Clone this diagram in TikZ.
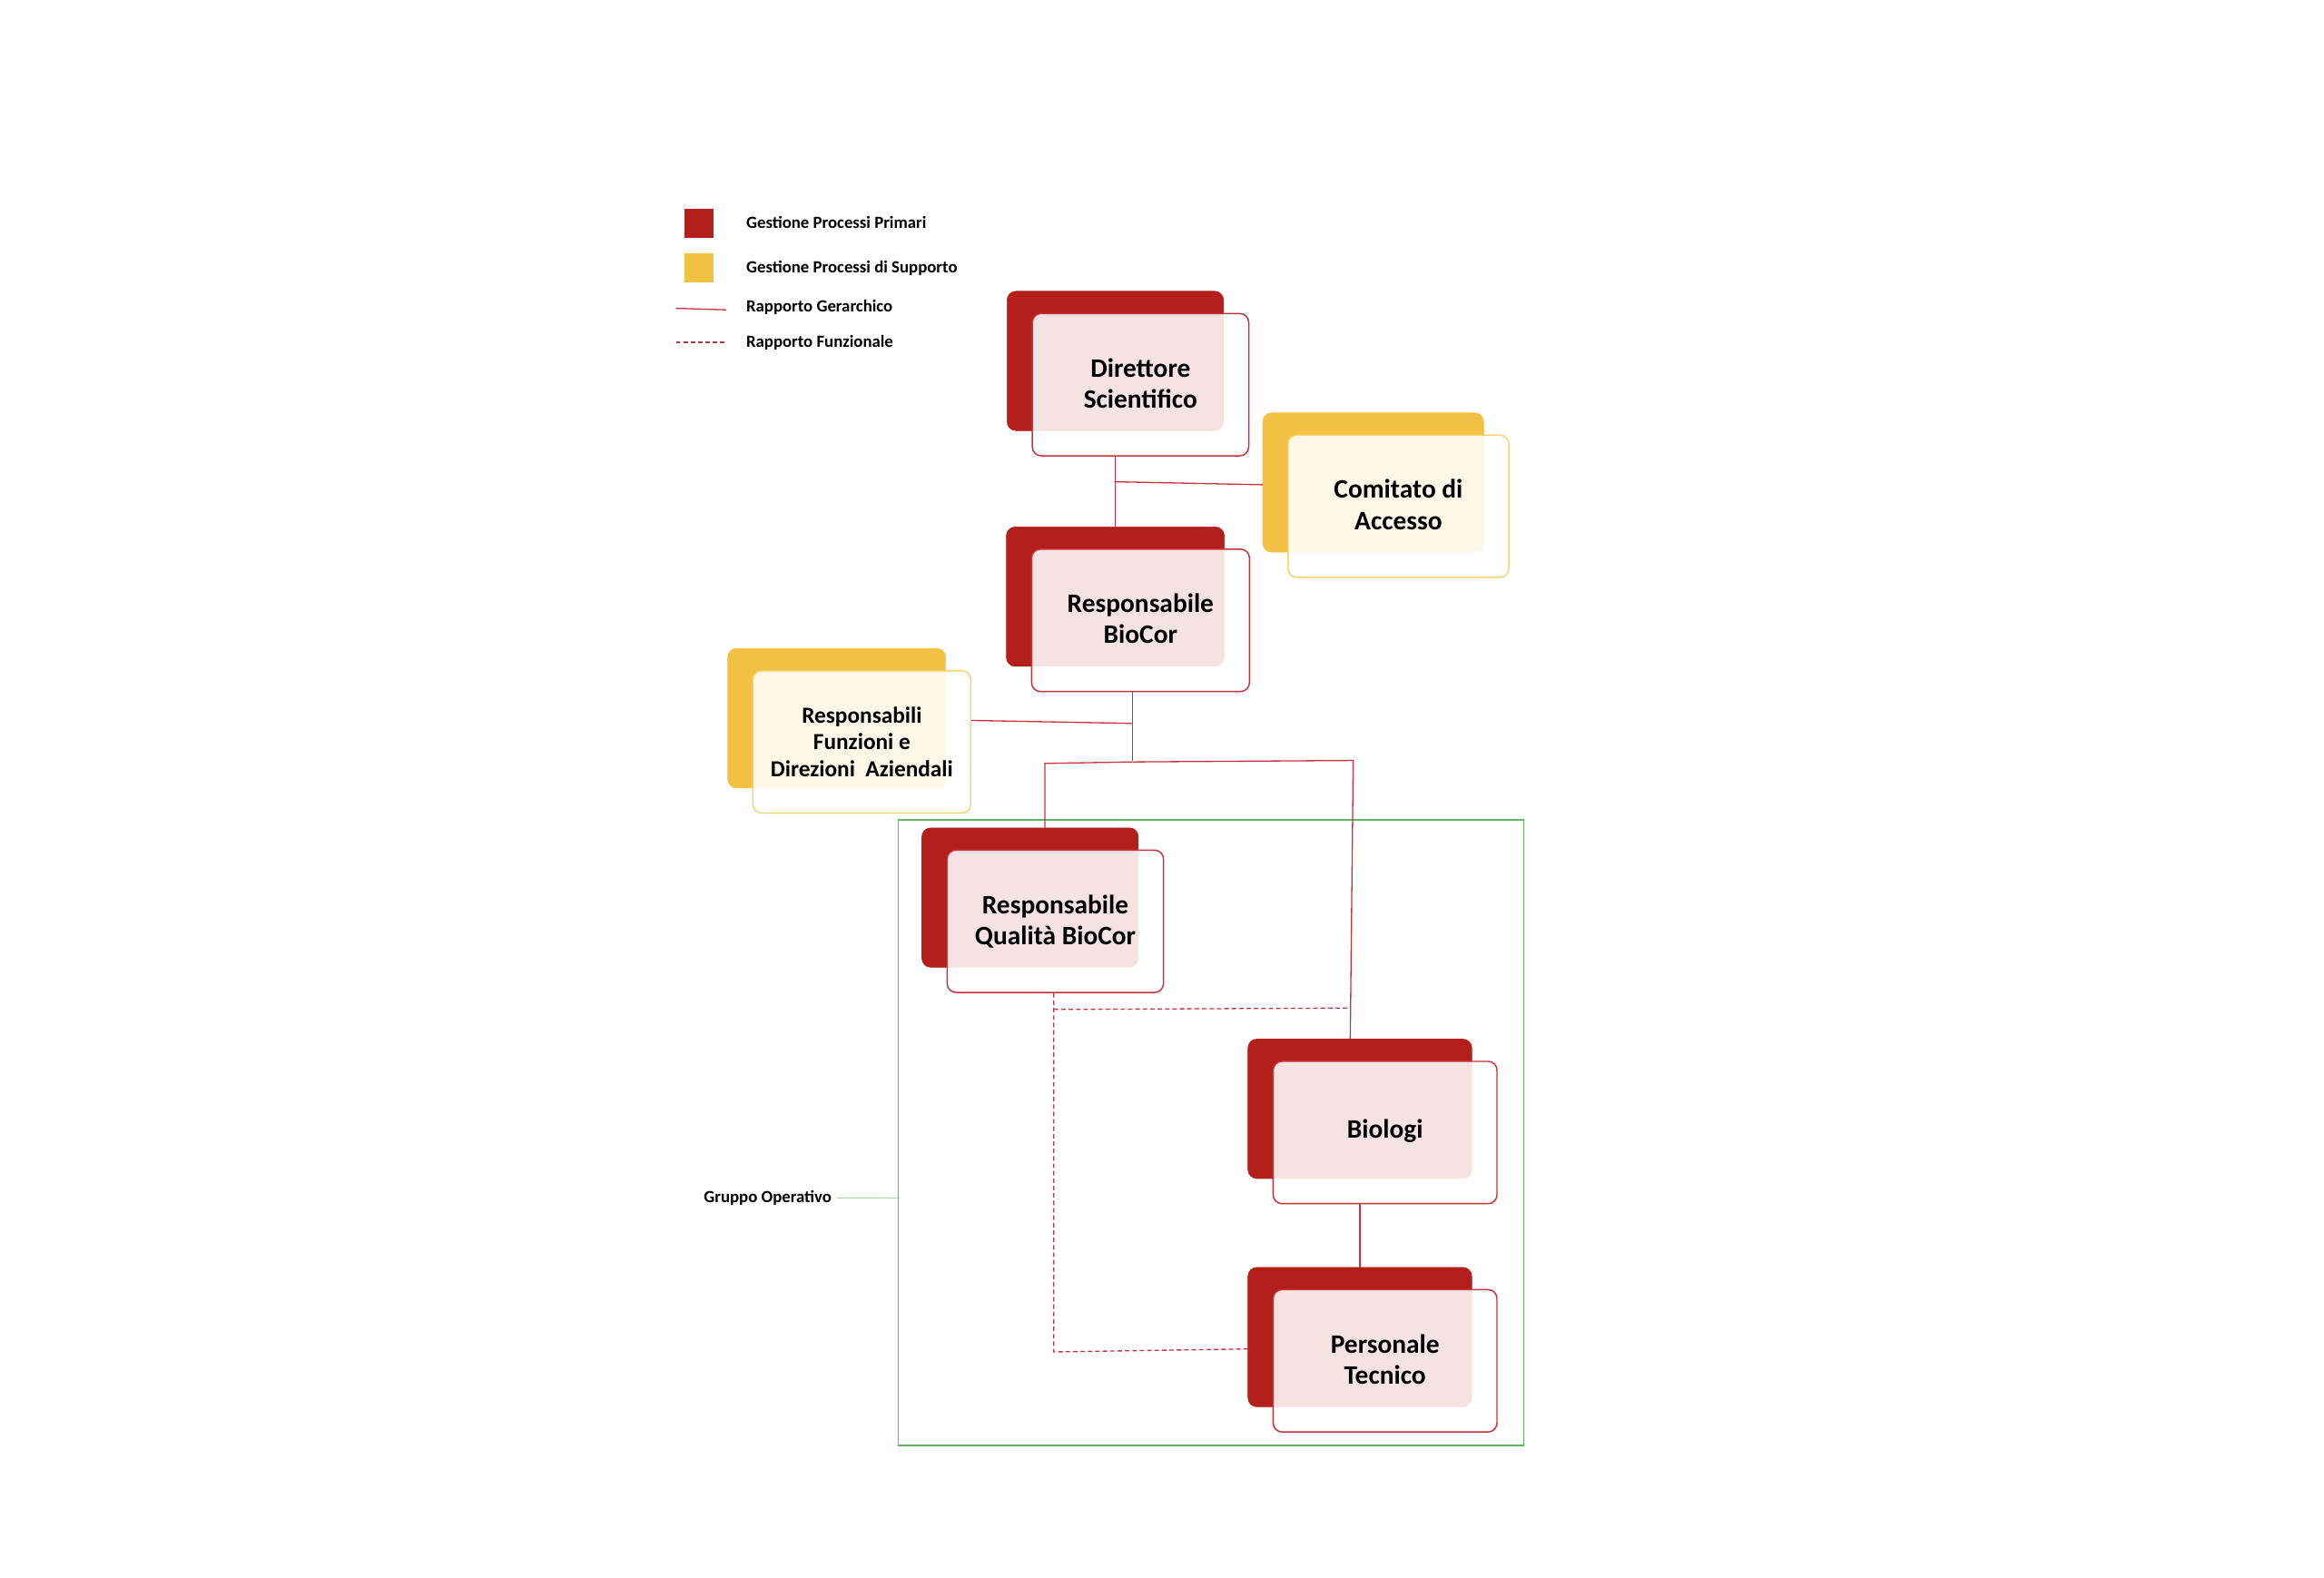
\documentclass[tikz,border=0pt]{standalone}
\usepackage{fontspec}
\setmainfont{Carlito}
\usetikzlibrary{calc}
\definecolor{dred}{HTML}{B3201B}
\definecolor{lred}{HTML}{C8323A}
\definecolor{yel}{HTML}{F2C043}
\definecolor{lyel}{HTML}{F5D270}
\definecolor{grn}{HTML}{5DB85D}
\begin{document}
\begin{tikzpicture}[x=1pt,y=-1pt,
 backR/.style={fill=dred,draw=dred,rounded corners=6pt},
 backY/.style={fill=yel,draw=yel,rounded corners=6pt},
 frontR/.style={draw=lred,fill=white,fill opacity=0.88,text opacity=1,rounded corners=6pt,line width=0.9pt},
 frontY/.style={draw=lyel,fill=white,fill opacity=0.88,text opacity=1,rounded corners=6pt,line width=0.9pt},
 lbl/.style={font=\bfseries\fontsize{18}{21}\selectfont,align=center,text=black},
 slbl/.style={font=\bfseries\fontsize{15.5}{18}\selectfont,align=center,text=black},
 leg/.style={font=\bfseries\fontsize{11.5}{13}\selectfont,anchor=west},
 hl/.style={draw=lred,line width=0.8pt},
 dl/.style={draw=lred,line width=0.8pt,dash pattern=on 3pt off 2pt}]
\useasboundingbox (0,0) rectangle (1568,1064);
% legend
\node[backR,rounded corners=0,minimum width=19pt,minimum height=19pt,inner sep=0] (l1) at (471.5,150.5) {};
\node[backY,rounded corners=0,minimum width=19pt,minimum height=19pt,inner sep=0] (l2) at (471.5,180.5) {};
\node[leg] (t1) at (500,150) {Gestione Processi Primari};
\node[leg] (t2) at (500,181) {Gestione Processi di Supporto};
\node[leg] (t3) at (500,207) {Rapporto Gerarchico};
\node[leg] (t4) at (500,231) {Rapporto Funzionale};
\coordinate (a1) at (456,208); \coordinate (b1) at (490,209); \draw[hl] (a1) -- (b1);
\coordinate (a2) at (456,231); \coordinate (b2) at (490,231); \draw[dl] (a2) -- (b2);
% green group
\node[draw=grn,line width=0.8pt,minimum width=422pt,minimum height=422pt,inner sep=0] (g) at (817,764) {};
\node[font=\bfseries\fontsize{11.5}{13}\selectfont] (gl) at (518,808) {Gruppo Operativo};
\draw[draw=grn!60,line width=0.6pt] (gl.east) -- (g.west |- gl.east);
% boxes
\newcommand{\orgbox}[8]{%
 \node[#1,minimum width=#4pt,minimum height=94pt,inner sep=0] (#2B) at (#3) {};
 \node[#5,minimum width=#4pt,minimum height=96pt,inner sep=0] (#2) at ($(#3)+(17,16)$) {};
 \node[#6] (#2T) at ($(#3)+(#7)$) {#8};}
\orgbox{backR}{d}{752.5,243.5}{146}{frontR}{lbl}{17,15}{Direttore\\Scientifico}
\orgbox{backY}{c}{926.5,325.5}{149}{frontY}{lbl}{17,15}{Comitato di\\Accesso}
\orgbox{backR}{r}{752.5,402.5}{147}{frontR}{lbl}{17,15}{Responsabile\\BioCor}
\orgbox{backY}{f}{564.5,484.5}{147}{frontY}{slbl}{17,16}{Responsabili\\Funzioni e\\Direzioni~ Aziendali}
\orgbox{backR}{q}{695,605.5}{146}{frontR}{lbl}{17,16}{Responsabile\\Qualità BioCor}
\orgbox{backR}{b}{917.5,748}{151}{frontR}{lbl}{17,15}{Biologi}
\orgbox{backR}{p}{917.5,902}{151}{frontR}{lbl}{17,15}{Personale\\Tecnico}
% connectors
\draw[hl] (d.south -| dB) -- (rB.north);
\coordinate (j1) at (752,325);
\draw[hl] (j1) -- (cB.west |- 0,327);
\coordinate (j2) at (764,488);
\draw[hl] (r.south -| j2) -- (764,513);
\draw[hl] (f.east |- 0,486) -- (j2);
\coordinate (j3) at (705,515); \coordinate (j4) at (913,513);
\draw[hl] (764,514) -- (j3) -- (qB.north -| j3);
\draw[hl] (764,514) -- (j4) -- (bB.north -| 911,0);
\draw[hl] (b.south -| bB) -- (pB.north);
\coordinate (k1) at (711,681); \coordinate (k2) at (711,912);
\draw[dl] (q.south -| k1) -- (k2) -- (pB.west |- 0,910);
\draw[dl] (k1) -- (911,680);
\end{tikzpicture}
\end{document}
